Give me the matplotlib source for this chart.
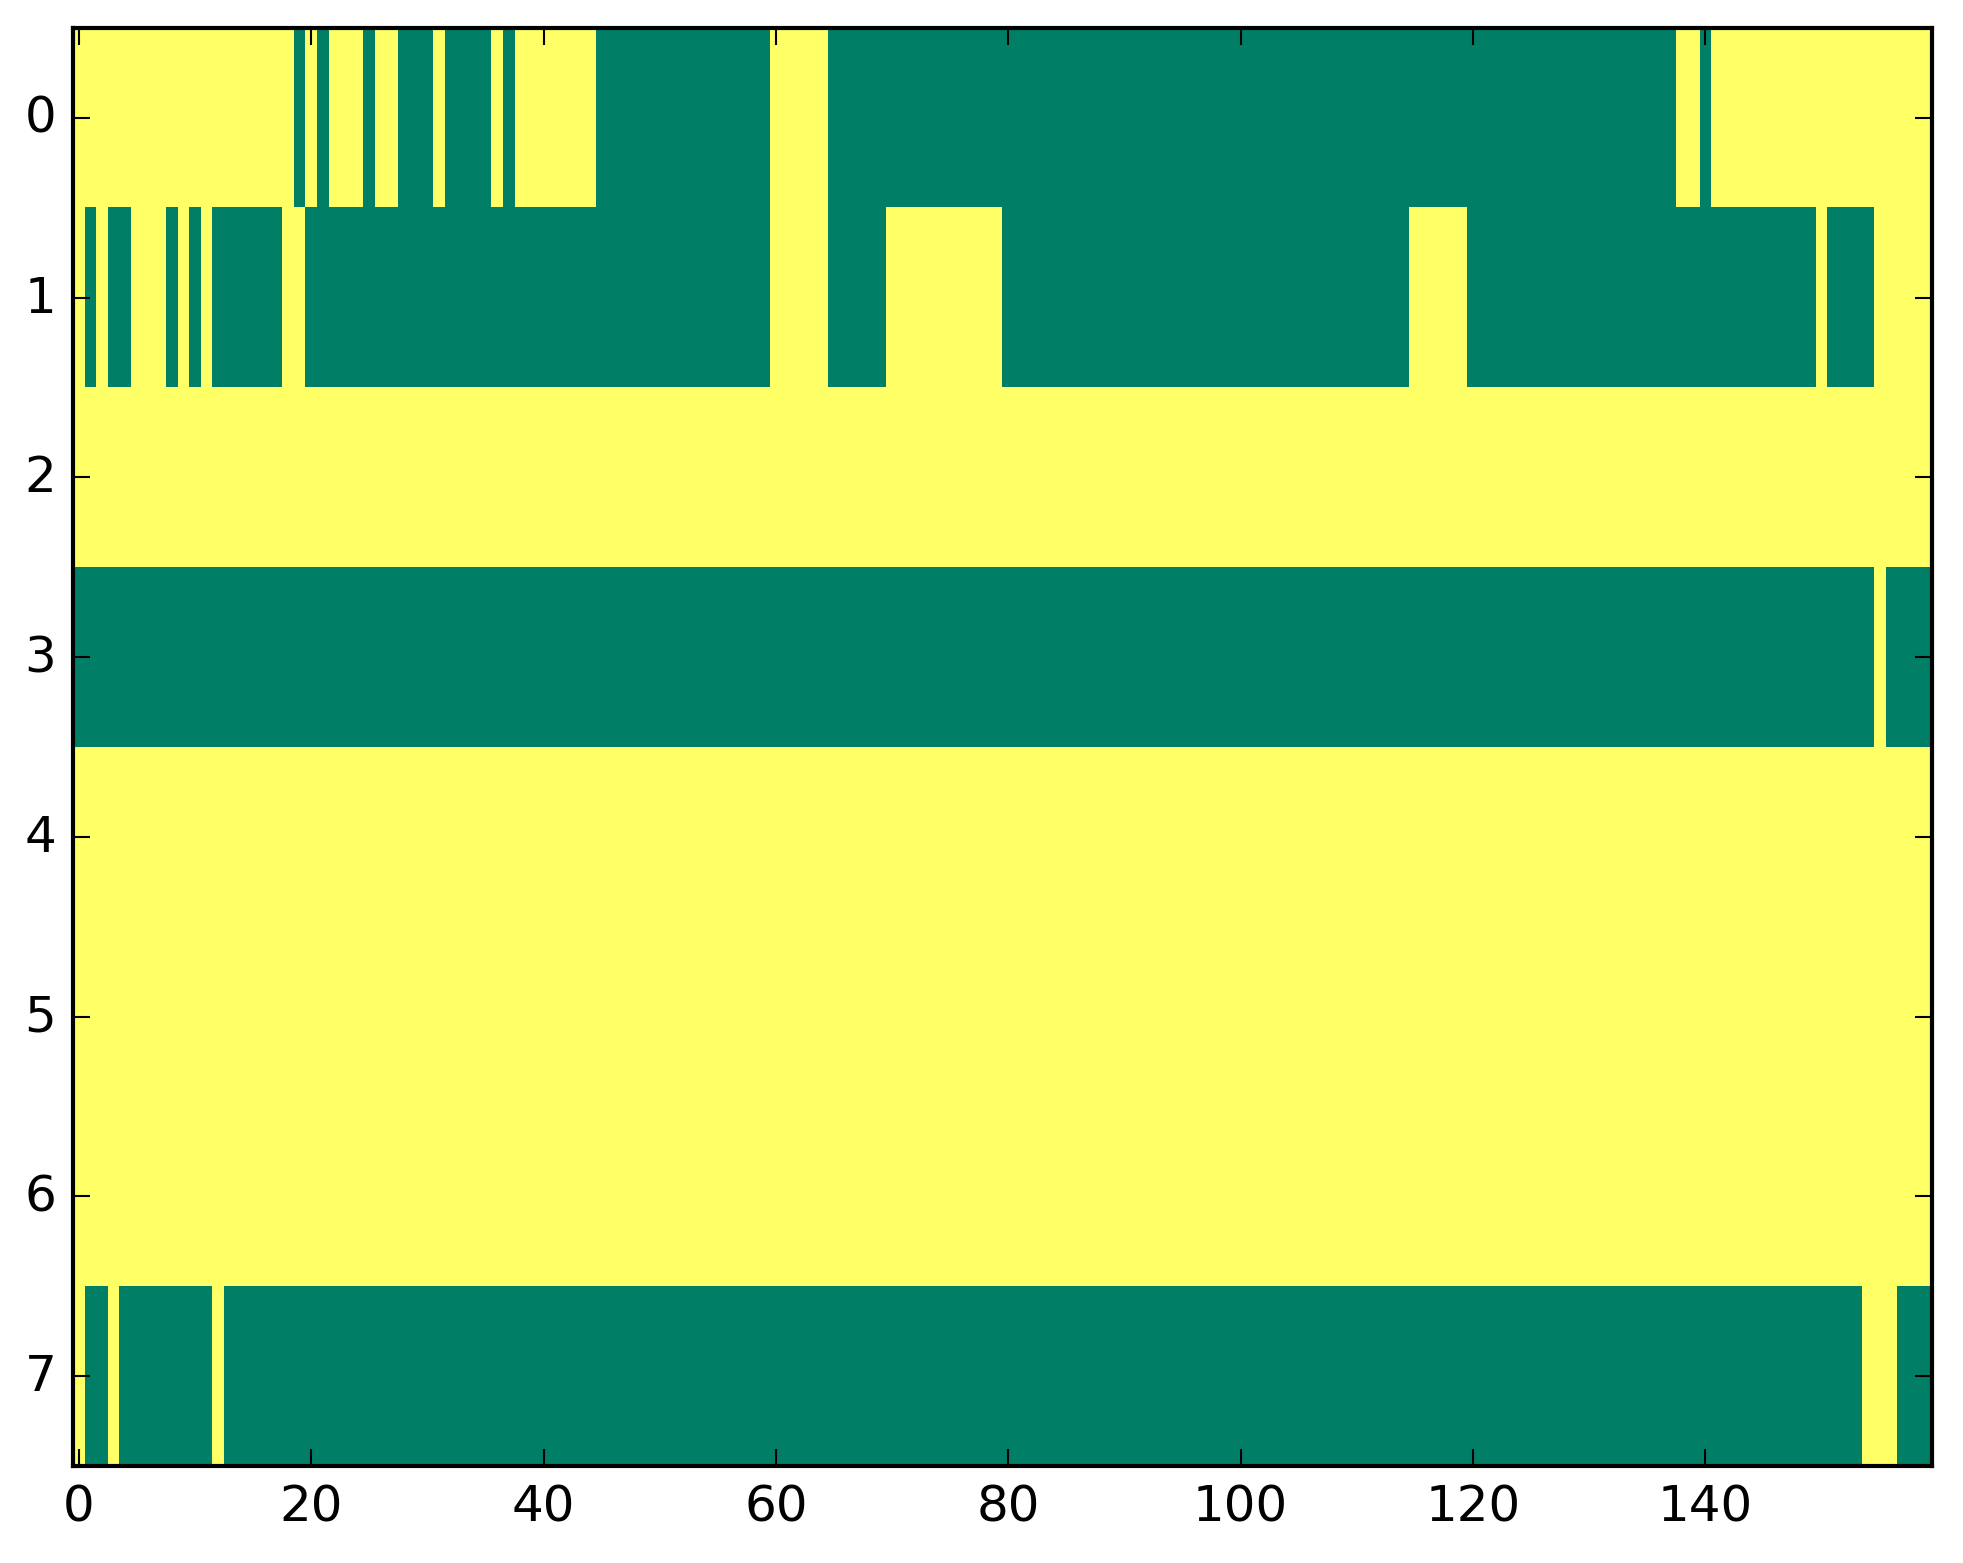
import matplotlib
matplotlib.use("Agg")
import matplotlib.pyplot as plt
import numpy as np

# 8 rows x 160 columns, 1 = yellow, 0 = green (summer colormap)
row0 = ("11111111111111111110" "10111011000100001011" "11111000000000000000" "11111000000000000000"
        "00000000000000000000" "00000000000000000000" "00000000000000000011" "01111111111111111111")
row1 = ("10100111010100000011" "00000000000000000000" "00000000000000000000" "11111000001111111111"
        "00000000000000000000" "00000000000000011111" "00000000000000000000" "00000000001000011111")
row2 = "1" * 160
row3 = ("0" * 140) + "00000000000000010000"
row4 = "1" * 160
row5 = "1" * 160
row6 = "1" * 160
row7 = ("10010000000010000000" + "0" * 120 + "00000000000000111000")

rows = [row0, row1, row2, row3, row4, row5, row6, row7]
data = np.array([[int(ch) for ch in r] for r in rows])

plt.style.use('classic')
W, H = 1963, 1564
fig = plt.figure(figsize=(W / 300, H / 300))
ax = fig.add_axes([73 / W, (H - 1467) / H, 1859 / W, 1438 / H])
ax.imshow(data, cmap='summer', aspect='auto', interpolation='nearest', vmin=0, vmax=1)
ax.set_xlim(-0.5, 159.5)
ax.set_ylim(7.5, -0.5)
fig.savefig("out.png", dpi=300)
